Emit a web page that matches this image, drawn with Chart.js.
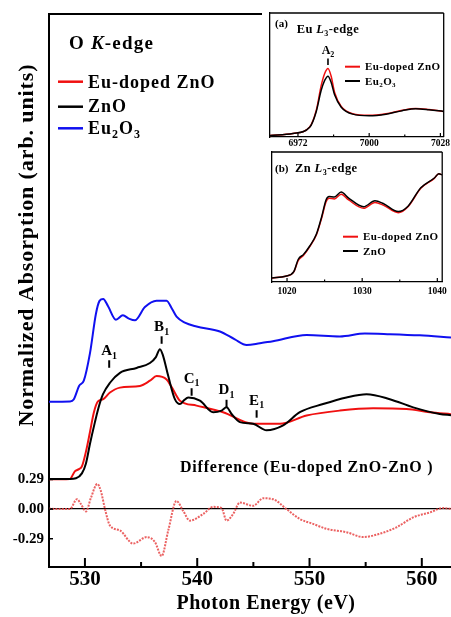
<!DOCTYPE html>
<html>
<head>
<meta charset="utf-8">
<script src="https://cdn.jsdelivr.net/npm/chart.js@4.4.0/dist/chart.umd.min.js"></script>
<style>
  html, body { margin: 0; padding: 0; background: #fff; }
  #wrap { position: relative; width: 451px; height: 617px; overflow: hidden; }
  canvas { position: absolute; }
  #mainChart { left: 0; top: 0; }
  #insetA { left: 262px; top: 9px; background: #fff; }
  #insetB { left: 262px; top: 150px; background: #fff; }
</style>
</head>
<body>
<div id="wrap">
  <canvas id="mainChart" width="451" height="617"></canvas>
  <canvas id="insetA" width="189" height="141"></canvas>
  <canvas id="insetB" width="189" height="150"></canvas>
</div>
<script>
// ---- O K-edge spectra (photon energy in eV, normalized absorption) ----
const blueEnergy = [526.8, 528.66, 529.0, 529.49, 529.9, 530.45, 530.98, 531.3, 531.63, 532.05, 532.76, 533.38, 533.92, 534.45, 535.34, 536.38, 537.27, 537.75, 538.16, 538.9, 539.94, 542.02, 543.35, 544.4, 545.58, 546.74, 549.74, 552.7, 554.93, 557.15, 559.82, 562.6];
const blueValues = [1.052, 1.055, 1.074, 1.209, 1.258, 1.528, 1.914, 2.04, 2.059, 1.99, 1.856, 1.898, 1.866, 1.849, 1.98, 2.042, 2.04, 1.963, 1.885, 1.827, 1.789, 1.74, 1.663, 1.608, 1.625, 1.644, 1.705, 1.692, 1.721, 1.714, 1.702, 1.682];

const zno_Energy = [526.8, 528.66, 529.2, 529.73, 530.09, 530.45, 530.89, 531.18, 531.6, 532.23, 533.12, 534.6, 535.79, 536.32, 536.68, 536.94, 537.42, 538.01, 538.46, 538.81, 539.2, 540.24, 541.42, 542.17, 542.61, 543.06, 543.8, 544.98, 546.17, 547.65, 549.14, 551.21, 553.29, 555.08, 557.15, 559.23, 561.6, 562.6];
const znoValues = [0.295, 0.295, 0.302, 0.35, 0.447, 0.64, 0.852, 0.981, 1.123, 1.238, 1.335, 1.383, 1.431, 1.489, 1.567, 1.509, 1.303, 1.077, 1.029, 1.065, 1.094, 1.062, 0.949, 0.965, 0.997, 0.932, 0.852, 0.836, 0.772, 0.82, 0.949, 1.029, 1.094, 1.125, 1.077, 0.997, 0.932, 0.92];

const euZnoEnergy = [526.8, 528.66, 529.1, 529.47, 529.73, 530.09, 530.45, 530.8, 531.16, 531.63, 532.23, 533.12, 534.9, 535.79, 536.38, 537.27, 537.75, 538.46, 539.94, 542.3, 544.98, 547.36, 549.74, 552.7, 555.67, 558.64, 560.71, 562.6];
const euZnoValues = [0.292, 0.295, 0.37, 0.392, 0.418, 0.563, 0.756, 0.949, 1.055, 1.077, 1.142, 1.19, 1.207, 1.258, 1.303, 1.27, 1.19, 1.062, 1.014, 0.949, 0.836, 0.836, 0.917, 0.965, 0.987, 0.981, 0.949, 0.93];

const diffEnergy = [526.8, 528.66, 529.29, 529.64, 530.09, 530.53, 531.1, 531.42, 531.78, 532.23, 533.12, 534.3, 535.5, 536.23, 536.83, 537.42, 538.15, 538.74, 539.35, 540.53, 541.42, 542.17, 542.61, 543.2, 543.8, 544.98, 545.87, 546.76, 547.95, 549.14, 550.32, 551.51, 553.29, 554.78, 556.26, 557.75, 559.23, 560.71, 561.9, 562.6];
const diffValues = [0.003, 0.0, 0.097, 0.05, -0.023, 0.109, 0.247, 0.177, 0.003, -0.161, -0.209, -0.338, -0.274, -0.322, -0.46, -0.209, 0.08, -0.016, -0.113, -0.048, 0.022, 0.01, -0.113, -0.048, 0.064, 0.032, 0.106, 0.097, 0.0, -0.097, -0.145, -0.193, -0.226, -0.274, -0.241, -0.178, -0.081, -0.033, 0.01, 0.003];

const xTicks = [530, 540, 550, 560];
const yTicks = [-0.29, 0, 0.29];

// peak markers A1..E1
const peakNames = ['A', 'B', 'C', 'D', 'E'];
const peakEnergy = [532.16, 536.83, 539.5, 542.61, 545.29];
const peakLevel = [1.512, 1.747, 1.238, 1.125, 1.023];

// ---- inset (a): Eu L3-edge ----
const euEdgeEnergy = [6961, 6970, 6976.6, 6979.2, 6981.1, 6982.5, 6983.8, 6985, 6986.4, 6989, 6993.5, 7000, 7006.6, 7013, 7018.3, 7023.5, 7029.3];
const euEdgeDoped = [0.02, 0.044, 0.13, 0.345, 0.66, 0.82, 0.885, 0.79, 0.575, 0.395, 0.30, 0.28, 0.30, 0.345, 0.367, 0.354, 0.33];
const euEdgeEu2O3 = [0.02, 0.044, 0.125, 0.33, 0.6, 0.73, 0.785, 0.71, 0.545, 0.385, 0.295, 0.275, 0.295, 0.34, 0.365, 0.352, 0.33];
const euEdgeTicks = [6972, 7000, 7028];

// ---- inset (b): Zn L3-edge ----
const znEdgeEnergy = [1018.0, 1019.8, 1020.9, 1021.5, 1022.2, 1023.0, 1023.9, 1024.6, 1025.2, 1025.6, 1026.3, 1027.2, 1028.2, 1030.2, 1031.7, 1032.8, 1034.8, 1036.1, 1037.8, 1039.6, 1040.2, 1040.6];
const znEdgeDoped = [0.037, 0.053, 0.093, 0.20, 0.247, 0.325, 0.433, 0.588, 0.742, 0.773, 0.767, 0.81, 0.757, 0.68, 0.735, 0.71, 0.64, 0.695, 0.865, 0.957, 1.0, 0.99];
const znEdgeZnO = [0.037, 0.053, 0.095, 0.21, 0.255, 0.33, 0.44, 0.60, 0.76, 0.79, 0.785, 0.83, 0.775, 0.695, 0.75, 0.725, 0.65, 0.70, 0.87, 0.96, 1.0, 0.99];
const znEdgeTicks = [1020, 1030, 1040];

const serif = "'Liberation Serif', 'Times New Roman', serif";
const RED = '#f01010';
const BLUE = '#1010f0';

const pts = (xs, ys) => xs.map((x, i) => ({ x, y: ys[i] }));

// draws bold serif text made of pieces (plain, italic, subscript)
function richText(ctx, parts, x, y, size, align, spacing) {
  ctx.save();
  ctx.letterSpacing = (spacing || 0) + 'px';
  ctx.textBaseline = 'alphabetic';
  ctx.textAlign = 'left';
  ctx.fillStyle = '#000';
  const items = parts.map(p => typeof p === 'string' ? { t: p } : p);
  const fontOf = p => `${p.it ? 'italic ' : ''}bold ${p.sub ? Math.round(size * 0.65) : size}px ${serif}`;
  let total = 0;
  items.forEach(p => { ctx.font = fontOf(p); p.w = ctx.measureText(p.t).width; total += p.w; });
  let cx = align === 'center' ? x - total / 2 : x;
  items.forEach(p => {
    ctx.font = fontOf(p);
    ctx.fillText(p.t, cx, y + (p.sub ? size * 0.25 : 0));
    cx += p.w;
  });
  ctx.restore();
}

function line(ctx, x1, y1, x2, y2, color, width) {
  ctx.save();
  ctx.strokeStyle = color;
  ctx.lineWidth = width;
  ctx.beginPath();
  ctx.moveTo(x1, y1);
  ctx.lineTo(x2, y2);
  ctx.stroke();
  ctx.restore();
}

const mainDecor = {
  id: 'mainDecor',
  afterDraw(chart) {
    const { ctx, chartArea: ca, scales: { x, y } } = chart;
    // top frame
    line(ctx, ca.left - 1, ca.top, ca.right, ca.top, '#000', 2);
    // inward ticks
    for (let v = 530; v <= 560; v += 5) {
      const px = x.getPixelForValue(v);
      line(ctx, px, ca.bottom, px, ca.bottom - (v % 10 === 0 ? 9 : 5), '#000', 2);
    }
    yTicks.forEach(v => {
      const py = y.getPixelForValue(v);
      line(ctx, ca.left, py, ca.left + 4, py, '#000', 1.5);
    });
    // peak markers
    peakNames.forEach((n, i) => {
      const px = x.getPixelForValue(peakEnergy[i]);
      const py = y.getPixelForValue(peakLevel[i]);
      richText(ctx, [n, { t: '1', sub: true }], px, py, 15, 'center', 0);
      line(ctx, px, py + 5.5, px, py + 13, '#000', 2);
    });
    // title and legend
    richText(ctx, ['O ', { t: 'K', it: true }, '-edge'], 69, 49, 19, 'left', 1.2);
    const legend = [
      { color: RED, parts: ['Eu-doped ZnO'], ly: 81.7, by: 88 },
      { color: '#000', parts: ['ZnO'], ly: 106.7, by: 112 },
      { color: BLUE, parts: ['Eu', { t: '2', sub: true }, 'O', { t: '3', sub: true }], ly: 128.3, by: 133.5 }
    ];
    legend.forEach(l => {
      line(ctx, 58, l.ly, 83, l.ly, l.color, 2.5);
      richText(ctx, l.parts, 88, l.by, 18, 'left', 1);
    });
    // difference caption
    richText(ctx, ['Difference (Eu-doped ZnO-ZnO )'], 180, 471.7, 16, 'left', 0.8);
    // axis titles
    richText(ctx, ['Photon Energy (eV)'], 266, 608.5, 20, 'center', 0.5);
    ctx.save();
    ctx.translate(33, 245);
    ctx.rotate(-Math.PI / 2);
    richText(ctx, ['Normalized Absorption (arb. units)'], 0, 0, 22, 'center', 0.9);
    ctx.restore();
  }
};

new Chart(document.getElementById('mainChart'), {
  type: 'line',
  data: {
    datasets: [
      { label: 'Eu₂O₃', data: pts(blueEnergy, blueValues), borderColor: BLUE, borderWidth: 2 },
      { label: 'ZnO', data: pts(zno_Energy, znoValues), borderColor: '#000', borderWidth: 2 },
      { label: 'Eu-doped ZnO', data: pts(euZnoEnergy, euZnoValues), borderColor: RED, borderWidth: 2 },
      { label: 'Difference', data: pts(diffEnergy, diffValues), borderColor: 'rgba(232,70,70,0.85)', borderWidth: 2, borderDash: [2, 1.2] }
    ]
  },
  options: {
    responsive: false,
    maintainAspectRatio: false,
    devicePixelRatio: 1,
    animation: false,
    layout: { padding: { top: 6, left: 0, right: 0, bottom: 0 } },
    elements: {
      point: { radius: 0 },
      line: { cubicInterpolationMode: 'monotone', fill: false }
    },
    plugins: { legend: { display: false }, tooltip: { enabled: false } },
    scales: {
      x: {
        type: 'linear',
        min: 526.8,
        max: 562.6,
        afterFit: s => { s.height = 50; },
        afterBuildTicks: s => { s.ticks = xTicks.map(v => ({ value: v })); },
        grid: { display: true, drawOnChartArea: false, drawTicks: false },
        border: { display: true, color: '#000', width: 2 },
        ticks: { color: '#000', padding: 0, font: { family: serif, size: 21, weight: 'bold' } }
      },
      y: {
        type: 'linear',
        min: -0.567,
        max: 4.85,
        afterFit: s => { s.width = 49; },
        afterBuildTicks: s => { s.ticks = yTicks.map(v => ({ value: v })); },
        grid: {
          drawTicks: false,
          lineWidth: 1.3,
          color: c => (c.tick && c.tick.value === 0) ? '#000' : 'rgba(0,0,0,0)'
        },
        border: { display: true, color: '#000', width: 2 },
        ticks: {
          color: '#000',
          padding: 5,
          font: { family: serif, size: 15, weight: 'bold' },
          callback: v => v.toFixed(2)
        }
      }
    }
  },
  plugins: [mainDecor]
});

// ---- insets ----
function insetDecor(cfg) {
  return {
    id: 'insetDecor',
    afterDraw(chart) {
      const { ctx, chartArea: ca, scales: { x, y } } = chart;
      line(ctx, ca.left, ca.top, ca.right, ca.top, '#000', 1.3);
      line(ctx, ca.right, ca.top, ca.right, ca.bottom, '#000', 1.3);
      const step = (cfg.ticks[1] - cfg.ticks[0]) / 2;
      for (let v = cfg.ticks[0]; v <= cfg.ticks[cfg.ticks.length - 1] + 0.01; v += step) {
        const px = x.getPixelForValue(v);
        const major = cfg.ticks.some(t => Math.abs(t - v) < 0.01);
        line(ctx, px, ca.bottom, px, ca.bottom - (major ? 4 : 2.5), '#000', 1.2);
      }
      richText(ctx, [cfg.tag], 13, cfg.tagY, 11, 'left', 0);
      richText(ctx, cfg.title, cfg.titleX, cfg.titleY, 12.5, 'left', 0.4);
      cfg.legend.forEach(l => {
        line(ctx, cfg.legX, l.ly, cfg.legX + 15, l.ly, l.color, 2);
        richText(ctx, l.parts, cfg.legX + 20, l.ly + 3.6, 11, 'left', 0.4);
      });
      if (cfg.peak) {
        const px = x.getPixelForValue(cfg.peak.e);
        const py = y.getPixelForValue(cfg.peak.v);
        richText(ctx, ['A', { t: '2', sub: true }], px, py, 12, 'center', 0);
        line(ctx, px, py + 4, px, py + 10.5, '#000', 1.6);
      }
    }
  };
}

function insetChart(id, xs, red, black, blackLabel, xMin, xMax, yMax, ticks, pad, xHeight, tickPad, decor) {
  new Chart(document.getElementById(id), {
    type: 'line',
    data: {
      datasets: [
        { label: blackLabel, data: pts(xs, black), borderColor: '#000', borderWidth: 1.5 },
        { label: 'Eu-doped ZnO', data: pts(xs, red), borderColor: RED, borderWidth: 1.5 }
      ]
    },
    options: {
      responsive: false,
      maintainAspectRatio: false,
      devicePixelRatio: 1,
      animation: false,
      layout: { padding: pad },
      elements: {
        point: { radius: 0 },
        line: { cubicInterpolationMode: 'monotone', fill: false }
      },
      plugins: { legend: { display: false }, tooltip: { enabled: false } },
      scales: {
        x: {
          type: 'linear',
          min: xMin,
          max: xMax,
          afterFit: s => { s.height = xHeight; },
          afterBuildTicks: s => { s.ticks = ticks.map(v => ({ value: v })); },
          grid: { display: true, drawOnChartArea: false, drawTicks: false },
          border: { display: true, color: '#000', width: 1.3 },
          ticks: {
            color: '#000',
            padding: tickPad,
            font: { family: serif, size: 9.5, weight: 'bold' },
            callback: v => String(v)
          }
        },
        y: {
          type: 'linear',
          min: 0,
          max: yMax,
          afterFit: s => { s.width = 0; },
          grid: { display: true, drawOnChartArea: false, drawTicks: false },
          border: { display: true, color: '#000', width: 1.3 },
          ticks: { display: false }
        }
      }
    },
    plugins: [insetDecor(decor)]
  });
}

insetChart('insetA', euEdgeEnergy, euEdgeDoped, euEdgeEu2O3, 'Eu₂O₃', 6961, 7029.3, 1.6, euEdgeTicks,
  { top: 4, left: 8, right: 6, bottom: 0 }, 13, 1, {
    ticks: euEdgeTicks, tag: '(a)', tagY: 18,
    title: ['Eu ', { t: 'L', it: true }, { t: '3', sub: true }, '-edge'], titleX: 34.7, titleY: 24.3,
    legX: 83,
    legend: [
      { color: RED, parts: ['Eu-doped ZnO'], ly: 57.7 },
      { color: '#000', parts: ['Eu', { t: '2', sub: true }, 'O', { t: '3', sub: true }], ly: 72 }
    ],
    peak: { e: 6983.8, v: 1.066 }
  });

insetChart('insetB', znEdgeEnergy, znEdgeDoped, znEdgeZnO, 'ZnO', 1018.0, 1040.65, 1.2, znEdgeTicks,
  { top: 2, left: 10, right: 6, bottom: 0 }, 18, 4, {
    ticks: znEdgeTicks, tag: '(b)', tagY: 22,
    title: ['Zn ', { t: 'L', it: true }, { t: '3', sub: true }, '-edge'], titleX: 33, titleY: 22,
    legX: 81,
    legend: [
      { color: RED, parts: ['Eu-doped ZnO'], ly: 86.7 },
      { color: '#000', parts: ['ZnO'], ly: 101 }
    ]
  });
</script>
</body>
</html>
